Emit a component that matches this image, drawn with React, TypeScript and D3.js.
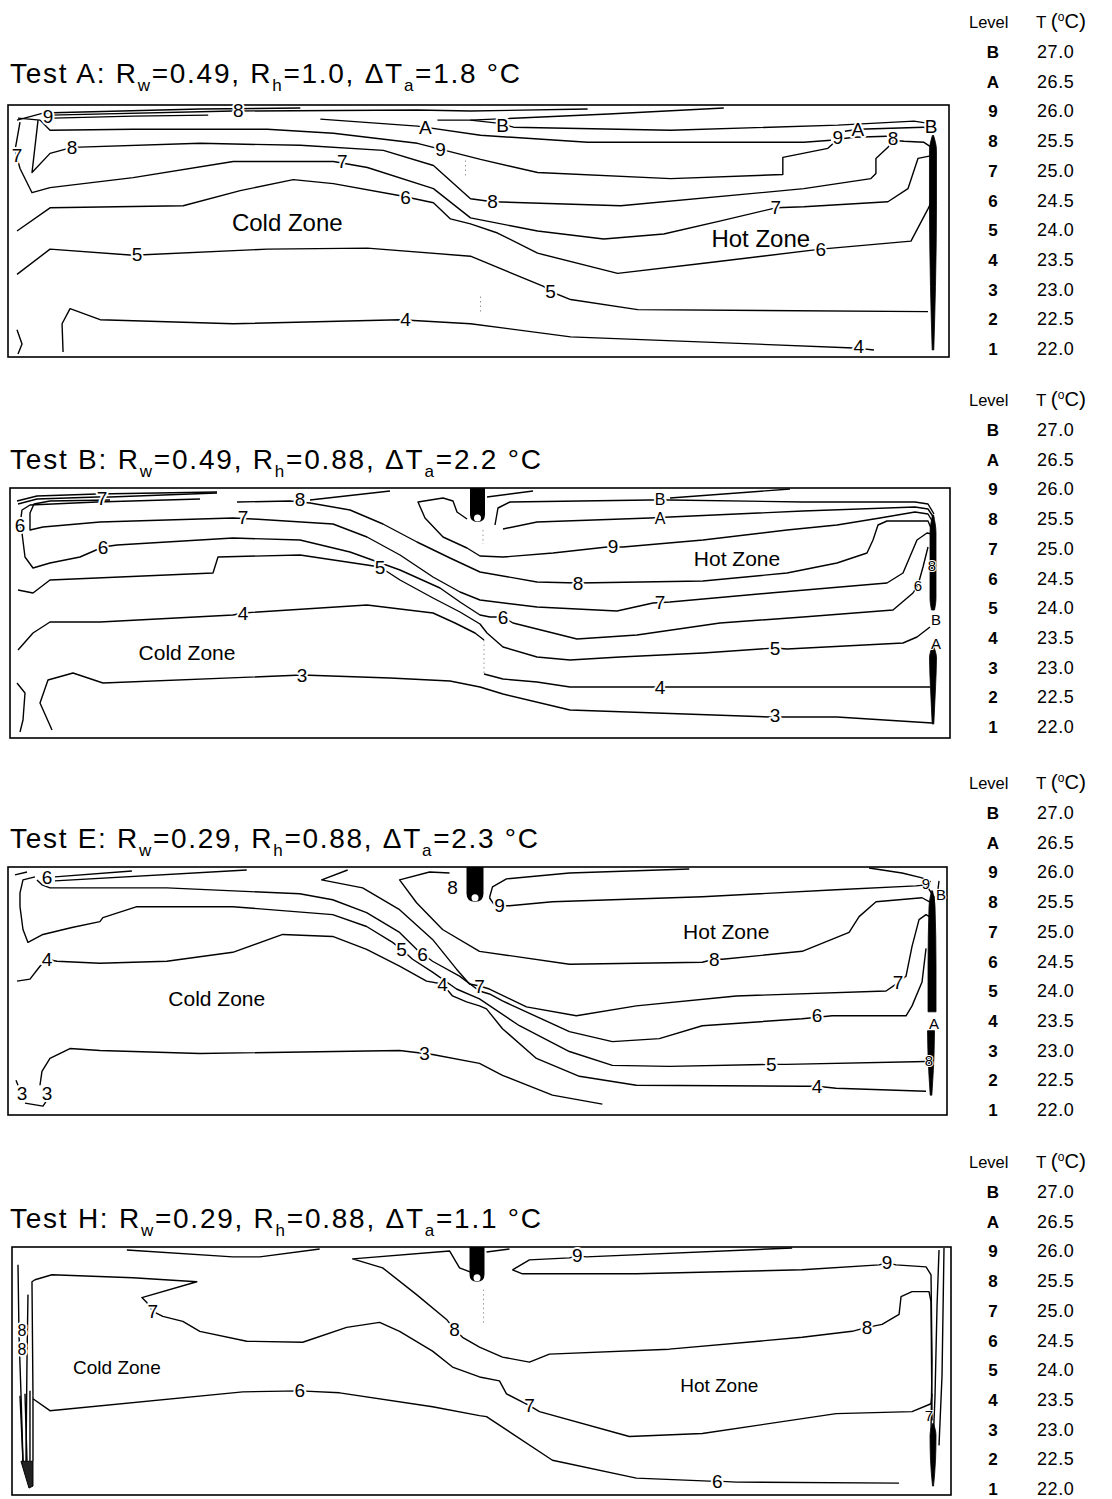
import React from "react";
import * as d3 from "d3";

type Pt = [number, number];
type Mark = { t: string; x: number; y: number; size?: number };
type Spindle = { cx: number; prof: Pt[] };

const FONT = "'Liberation Sans', Arial, Helvetica, sans-serif";
const WALL = 15; // font size of labels packed against the heated wall

// ---- legend: contour level codes and their temperatures (°C)
const levelCodes = ["B", "A", "9", "8", "7", "6", "5", "4", "3", "2", "1"];
const levelTemps = [27.0, 26.5, 26.0, 25.5, 25.0, 24.5, 24.0, 23.5, 23.0, 22.5, 22.0];

// ---- test conditions
const testIds = ["A", "B", "E", "H"];
const rwValues = ["0.49", "0.49", "0.29", "0.29"];
const rhValues = ["1.0", "0.88", "0.88", "0.88"];
const dTaValues = ["1.8", "2.2", "2.3", "1.1"];

// Tank coordinates: distance along the tank 0..940, depth below the surface 0..250
const TANK_LEN = 940;
const TANK_DEPTH = 250;

// ---------------- Test A
const contoursA: Pt[][] = [
  [[9, 15], [35, 8], [192, 4], [292, 3]],
  [[42, 10], [225, 6], [409, 5], [462, 6], [579, 4]],
  [[462, 15], [600, 9], [715, 3]],
  [[45, 13], [125, 11], [200, 10]],
  [[10, 13], [32, 15], [42, 25], [125, 24], [259, 24], [325, 28], [409, 38], [472, 54], [529, 67], [662, 73], [774, 69], [774, 52], [819, 43], [829, 34], [845, 32], [878, 31]],
  [[312, 14], [409, 21], [472, 30], [579, 37], [795, 37], [822, 35]],
  [[836, 26], [849, 24], [915, 22], [922, 26]],
  [[429, 15], [462, 15], [489, 18], [505, 22], [662, 25], [829, 20], [905, 16], [918, 18], [924, 24]],
  [[30, 15], [24, 67], [42, 48], [64, 42], [192, 38], [292, 40], [375, 45], [425, 60], [462, 93], [484, 96], [612, 100], [795, 83], [862, 73], [867, 68], [867, 53], [879, 42], [884, 35], [895, 36], [915, 37], [924, 43]],
  [[12, 17], [7, 45], [12, 63], [24, 87], [42, 82], [125, 72], [225, 56], [325, 56], [359, 62], [425, 83], [462, 112], [529, 125], [595, 133], [655, 128], [712, 115], [767, 102], [795, 101], [879, 96], [899, 83], [909, 53], [924, 50]],
  [[9, 125], [42, 102], [175, 100], [232, 85], [285, 74], [325, 78], [392, 90], [425, 97], [442, 113], [462, 118], [489, 127], [529, 147], [609, 167], [695, 157], [812, 143], [902, 135], [919, 103], [924, 93]],
  [[9, 168], [42, 143], [125, 149], [259, 143], [359, 142], [462, 150], [535, 180], [542, 185], [562, 193], [629, 203], [919, 205]],
  [[55, 245], [54, 217], [62, 202], [92, 213], [225, 217], [392, 213], [462, 217], [562, 230], [845, 241], [865, 243]],
  [[9, 223], [14, 237], [10, 247]],
];
const labelsA: Mark[] = [
  { t: "8", x: 230, y: 5 }, { t: "9", x: 40, y: 11 }, { t: "7", x: 9, y: 50 }, { t: "8", x: 64, y: 42 },
  { t: "9", x: 432, y: 44 }, { t: "A", x: 417, y: 22 }, { t: "B", x: 494, y: 20 }, { t: "7", x: 334, y: 56 },
  { t: "6", x: 397, y: 92 }, { t: "5", x: 129, y: 148 }, { t: "4", x: 397, y: 213 }, { t: "8", x: 484, y: 96 },
  { t: "7", x: 767, y: 102 }, { t: "6", x: 812, y: 143 }, { t: "5", x: 542, y: 185 }, { t: "4", x: 850, y: 240 },
  { t: "9", x: 829, y: 32 }, { t: "A", x: 849, y: 24 }, { t: "8", x: 884, y: 33 }, { t: "B", x: 922, y: 21 },
];
const wallA: Spindle[] = [{ cx: 924, prof: [[30, 0.5], [45, 3.5], [100, 3.5], [180, 2.5], [243, 0.8]] }];
const zonesA: Mark[] = [{ t: "Cold Zone", x: 279, y: 117 }, { t: "Hot Zone", x: 752, y: 132 }];
const dottedA: Pt[][] = [[[457, 55], [457, 70]], [[472, 190], [472, 205]]];

// ---------------- Test B
const contoursB: Pt[][] = [
  [[7, 13], [27, 8], [87, 6], [207, 4]],
  [[8, 16], [27, 11], [87, 9], [100, 9], [207, 5]],
  [[457, 31], [447, 24], [443, 13], [433, 10], [408, 14], [415, 30], [433, 49], [457, 60], [470, 68], [493, 69], [543, 65], [597, 59], [613, 59], [693, 52], [777, 42], [827, 37], [870, 30], [905, 24], [918, 26], [924, 36]],
  [[227, 14], [280, 13], [300, 15], [340, 22], [373, 36], [407, 54], [440, 70], [470, 84], [527, 94], [568, 95], [693, 93], [777, 85], [827, 75], [857, 65], [863, 52], [868, 37], [877, 33], [918, 33], [923, 45]],
  [[300, 12], [380, 3]],
  [[100, 12], [40, 13], [24, 16], [20, 25], [20, 42], [33, 39], [90, 34], [223, 30], [243, 31], [323, 36], [357, 49], [390, 67], [423, 89], [450, 104], [470, 112], [527, 119], [607, 123], [643, 115], [660, 114], [760, 105], [877, 95], [893, 85], [907, 52], [917, 45], [922, 46]],
  [[190, 11], [87, 14], [20, 17], [12, 22], [10, 37], [12, 45], [15, 69], [23, 80], [40, 75], [70, 69], [93, 59], [107, 57], [223, 50], [290, 52], [340, 64], [390, 82], [430, 100], [450, 114], [470, 127], [480, 129], [493, 129], [503, 135], [567, 151], [627, 147], [710, 135], [793, 129], [883, 122], [903, 105], [908, 97], [913, 79], [918, 59]],
  [[8, 102], [23, 105], [40, 92], [203, 85], [208, 69], [290, 67], [357, 77], [370, 79], [390, 92], [423, 110], [450, 124], [470, 136], [477, 145], [493, 159], [527, 169], [560, 172], [610, 169], [693, 165], [765, 160], [777, 161], [893, 155], [907, 149], [920, 139]],
  [[8, 162], [23, 145], [40, 134], [90, 134], [223, 127], [233, 125], [357, 117], [423, 125], [445, 135], [465, 145], [474, 152]],
  [[474, 186], [493, 191], [527, 194], [560, 199], [650, 199], [920, 199]],
  [[42, 242], [30, 215], [38, 192], [63, 185], [93, 195], [292, 187], [380, 190], [440, 193], [470, 199], [493, 206], [560, 222], [760, 229], [827, 229], [922, 235]],
  [[485, 37], [488, 20], [500, 14], [640, 12], [660, 12], [793, 14], [905, 14], [918, 16], [924, 26]],
  [[493, 41], [527, 34], [640, 30], [660, 29], [793, 23], [905, 19], [918, 21], [924, 30]],
  [[660, 10], [780, 1]],
  [[477, 9], [523, 3]],
  [[7, 195], [15, 205], [13, 232], [10, 244]],
];
const labelsB: Mark[] = [
  { t: "7", x: 92, y: 10 }, { t: "6", x: 10, y: 37 }, { t: "8", x: 290, y: 11 }, { t: "7", x: 233, y: 29 },
  { t: "6", x: 93, y: 59 }, { t: "5", x: 370, y: 79 }, { t: "4", x: 233, y: 125 }, { t: "3", x: 292, y: 187 },
  { t: "B", x: 650, y: 11, size: 16 }, { t: "A", x: 650, y: 30, size: 16 }, { t: "9", x: 603, y: 58 }, { t: "8", x: 568, y: 95 },
  { t: "7", x: 650, y: 114 }, { t: "6", x: 493, y: 129 }, { t: "5", x: 765, y: 160 }, { t: "4", x: 650, y: 199 },
  { t: "3", x: 765, y: 227 }, { t: "8", x: 922, y: 77, size: WALL }, { t: "6", x: 908, y: 97, size: WALL },
  { t: "B", x: 926, y: 131, size: WALL }, { t: "A", x: 926, y: 155, size: WALL },
];
const wallB: Spindle[] = [
  { cx: 923, prof: [[27, 0.5], [45, 3], [110, 3], [122, 1.5]] },
  { cx: 923, prof: [[158, 0.5], [170, 3.5], [200, 2.5], [236, 0.8]] },
];
const zonesB: Mark[] = [{ t: "Cold Zone", x: 177, y: 164 }, { t: "Hot Zone", x: 727, y: 70 }];
const dottedB: Pt[][] = [[[473, 42], [473, 56]], [[474, 152], [474, 186]]];
const nozzleB: number[] = [460, 475, 34];

// ---------------- Test E
const contoursE: Pt[][] = [
  [[7, 8], [19, 5]],
  [[47, 10], [124, 4]],
  [[47, 14], [239, 3]],
  [[29, 13], [34, 18], [42, 21], [159, 21], [292, 27], [325, 33], [359, 46], [392, 66], [409, 83], [425, 95], [452, 110], [472, 125], [482, 128], [495, 135], [562, 166], [605, 176], [652, 173], [695, 160], [795, 153], [825, 150], [899, 150], [905, 140], [915, 116], [919, 82]],
  [[27, 10], [15, 13], [12, 26], [12, 40], [15, 63], [20, 76], [35, 68], [64, 61], [92, 55], [95, 51], [129, 40], [225, 40], [325, 48], [359, 60], [385, 76], [394, 83], [405, 93], [425, 106], [449, 123], [472, 133], [512, 160], [562, 186], [605, 200], [662, 201], [764, 199], [779, 199], [919, 196]],
  [[9, 115], [22, 113], [32, 100], [39, 93], [49, 95], [92, 97], [159, 95], [225, 86], [275, 68], [325, 70], [359, 83], [392, 100], [419, 115], [435, 118], [445, 130], [459, 136], [472, 140], [479, 143], [495, 163], [529, 193], [572, 211], [629, 220], [795, 221], [810, 221], [829, 223], [919, 226]],
  [[32, 220], [34, 206], [42, 193], [62, 183], [92, 185], [192, 188], [392, 185], [417, 188], [425, 189], [472, 198], [495, 210], [545, 230], [595, 239]],
  [[340, 3], [314, 13], [355, 21], [392, 43], [425, 73], [449, 103], [462, 118], [472, 120], [482, 123], [519, 141], [569, 150], [629, 140], [729, 130], [879, 125], [889, 118], [899, 110], [905, 80], [912, 53], [919, 48], [924, 51]],
  [[442, 6], [422, 5], [392, 13], [409, 36], [435, 63], [472, 85], [562, 98], [695, 96], [707, 93], [715, 93], [795, 85], [842, 66], [852, 50], [869, 35], [915, 31], [924, 36], [922, 120]],
  [[482, 31], [485, 20], [499, 12], [562, 6], [682, 2]],
  [[482, 31], [486, 37], [492, 39], [502, 39], [545, 35], [695, 30], [829, 23], [909, 19], [919, 18], [927, 30], [926, 100]],
  [[862, 1], [895, 6], [915, 11], [924, 15]],
  [[932, 14], [931, 22]],
  [[17, 238], [35, 241], [39, 235]],
  [[8, 215], [10, 220]],
];
const labelsE: Mark[] = [
  { t: "6", x: 39, y: 11 }, { t: "6", x: 415, y: 88 }, { t: "5", x: 394, y: 83 }, { t: "4", x: 39, y: 93 },
  { t: "4", x: 435, y: 118 }, { t: "3", x: 417, y: 188 }, { t: "3", x: 14, y: 228 }, { t: "3", x: 39, y: 228 },
  { t: "8", x: 445, y: 21 }, { t: "9", x: 492, y: 39 }, { t: "7", x: 472, y: 120 }, { t: "8", x: 707, y: 93 },
  { t: "6", x: 810, y: 150 }, { t: "5", x: 764, y: 199 }, { t: "4", x: 810, y: 221 }, { t: "7", x: 891, y: 116 },
  { t: "9", x: 919, y: 17, size: WALL }, { t: "B", x: 934, y: 28, size: WALL }, { t: "A", x: 927, y: 158, size: WALL },
  { t: "8", x: 922, y: 195, size: WALL },
];
const wallE: Spindle[] = [
  { cx: 925, prof: [[24, 0.5], [40, 3], [100, 4], [146, 4]] },
  { cx: 924, prof: [[165, 3.5], [190, 3], [230, 0.8]] },
];
const zonesE: Mark[] = [{ t: "Cold Zone", x: 209, y: 133 }, { t: "Hot Zone", x: 719, y: 65 }];
const dottedE: Pt[][] = [];
const nozzleE: number[] = [459, 476, 35];

// ---------------- Test H
const contoursH: Pt[][] = [
  [[115, 3], [221, 10], [248, 10], [308, 2]],
  [[21, 150], [20, 35], [23, 33], [40, 28], [121, 31], [185, 35], [130, 51], [135, 56], [141, 65], [151, 70], [171, 75], [188, 85], [235, 95], [291, 96], [335, 81], [368, 76], [388, 85], [421, 105], [441, 121], [468, 131], [488, 135], [495, 148], [518, 160], [528, 166], [618, 191], [691, 188], [825, 168], [901, 166], [920, 158], [921, 148]],
  [[461, 26], [448, 21], [438, 4], [341, 12], [371, 21], [405, 48], [435, 73], [443, 83], [451, 91], [468, 101], [491, 111], [518, 116], [538, 108], [658, 103], [791, 91], [841, 85], [856, 81], [871, 78], [888, 68], [890, 50], [901, 45], [918, 45], [920, 55], [921, 175]],
  [[501, 23], [518, 13], [558, 11], [566, 9], [575, 10], [781, 1]],
  [[501, 23], [511, 27], [625, 27], [791, 23], [868, 18], [876, 16], [885, 18], [915, 20], [920, 28], [921, 115], [920, 185]],
  [[475, 5], [498, 2]],
  [[21, 153], [38, 165], [231, 146], [288, 145], [328, 147], [421, 161], [468, 170], [475, 171], [541, 215], [625, 233], [698, 236], [706, 236], [725, 237], [888, 238]],
  [[6, 18], [7, 88], [9, 148], [11, 216]],
  [[16, 48], [15, 115], [14, 216]],
  [[21, 150], [21, 216]],
  [[8, 150], [11, 216]],
  [[13, 148], [15, 216]],
  [[18, 145], [18, 216]],
  [[928, 3], [926, 60], [924, 150], [922, 200]],
  [[933, 1], [931, 130], [928, 200]],
];
const labelsH: Mark[] = [
  { t: "7", x: 141, y: 65 }, { t: "8", x: 443, y: 83 }, { t: "6", x: 288, y: 145 }, { t: "8", x: 10, y: 84, size: 16 },
  { t: "8", x: 10, y: 103, size: 16 }, { t: "9", x: 566, y: 9 }, { t: "9", x: 876, y: 16 }, { t: "8", x: 856, y: 81 },
  { t: "7", x: 518, y: 160 }, { t: "6", x: 706, y: 236 }, { t: "7", x: 918, y: 170, size: WALL },
];
const wallH: Spindle[] = [{ cx: 922, prof: [[178, 0.5], [190, 3], [215, 2.5], [241, 0.5]] }];
const wedgeH: Pt[] = [[9, 216], [21, 216], [21, 241], [17, 243]];
const zonesH: Mark[] = [{ t: "Cold Zone", x: 105, y: 121 }, { t: "Hot Zone", x: 708, y: 140 }];
const dottedH: Pt[][] = [[[472, 43], [472, 78]]];
const nozzleH: number[] = [458, 473, 35];

// ---------------- layout
const layout = [
  { left: 8, top: 105, w: 941, h: 252, titleY: 83, titleLen: 510, legendY: 22, zoneSize: 24 },
  { left: 10, top: 488, w: 940, h: 250, titleY: 469, titleLen: 531, legendY: 400, zoneSize: 21 },
  { left: 8, top: 867, w: 939, h: 248, titleY: 848, titleLen: 528, legendY: 783, zoneSize: 21 },
  { left: 12, top: 1247, w: 939, h: 248, titleY: 1228, titleLen: 531, legendY: 1162, zoneSize: 19 },
];

const panels = [
  { contours: contoursA, labels: labelsA, walls: wallA, zones: zonesA, dotted: dottedA, nozzle: [] as number[], wedge: [] as Pt[] },
  { contours: contoursB, labels: labelsB, walls: wallB, zones: zonesB, dotted: dottedB, nozzle: nozzleB, wedge: [] as Pt[] },
  { contours: contoursE, labels: labelsE, walls: wallE, zones: zonesE, dotted: dottedE, nozzle: nozzleE, wedge: [] as Pt[] },
  { contours: contoursH, labels: labelsH, walls: wallH, zones: zonesH, dotted: dottedH, nozzle: nozzleH, wedge: wedgeH },
];

function Panel({ i }: { i: number }) {
  const L = layout[i];
  const P = panels[i];
  const x = d3.scaleLinear().domain([0, TANK_LEN]).range([L.left, L.left + L.w]);
  const y = d3.scaleLinear().domain([0, TANK_DEPTH]).range([L.top, L.top + L.h]);
  const line = d3.line<Pt>().x((d) => x(d[0])).y((d) => y(d[1]));
  const closed = d3.line<Pt>().x((d) => x(d[0])).y((d) => y(d[1])).curve(d3.curveLinearClosed);

  const spindlePath = (s: Spindle) =>
    d3
      .area<Pt>()
      .y((d) => y(d[0]))
      .x0((d) => x(s.cx) - d[1])
      .x1((d) => x(s.cx) + d[1])
      .curve(d3.curveMonotoneY)(s.prof) || "";

  let nozzle: React.ReactNode = null;
  if (P.nozzle.length) {
    const [a, b, depth] = P.nozzle;
    const x0 = x(a), x1 = x(b), y0 = y(0), y1 = y(depth);
    const cx = (x0 + x1) / 2;
    const r = (x1 - x0) / 2;
    nozzle = (
      <g>
        <path d={`M${x0},${y0}L${x1},${y0}L${x1},${y1 - r}Q${x1},${y1} ${cx},${y1}Q${x0},${y1} ${x0},${y1 - r}Z`} fill="#000" />
        <circle cx={cx} cy={y1 - 4} r={3.5} fill="#fff" />
      </g>
    );
  }

  return (
    <g>
      <text x={10} y={L.titleY} fontSize={28} textLength={L.titleLen} lengthAdjust="spacing" fill="#000">
        {`Test ${testIds[i]}: R`}
        <tspan dy={8} fontSize={17}>w</tspan>
        <tspan dy={-8}>{`=${rwValues[i]}, R`}</tspan>
        <tspan dy={8} fontSize={17}>h</tspan>
        <tspan dy={-8}>{`=${rhValues[i]}, \u0394T`}</tspan>
        <tspan dy={8} fontSize={17}>a</tspan>
        <tspan dy={-8}>{`=${dTaValues[i]} \u00B0C`}</tspan>
      </text>

      <rect x={L.left} y={L.top} width={L.w} height={L.h} fill="none" stroke="#000" strokeWidth={1.6} />

      {P.dotted.map((d, k) => (
        <path key={"d" + k} d={line(d) || ""} fill="none" stroke="#999" strokeWidth={1} strokeDasharray="1.5 3" />
      ))}

      {P.contours.map((c, k) => (
        <path key={"c" + k} d={line(c) || ""} fill="none" stroke="#000" strokeWidth={1.4} strokeLinejoin="round" />
      ))}

      {P.walls.map((s, k) => (
        <path key={"w" + k} d={spindlePath(s)} fill="#000" stroke="#000" strokeWidth={0.8} />
      ))}

      {P.wedge.length > 0 && <path d={closed(P.wedge) || ""} fill="#222" stroke="#000" strokeWidth={1} />}

      {nozzle}

      {P.labels.map((m, k) => {
        const fs = m.size ?? 19;
        return (
          <text
            key={"l" + k}
            x={x(m.x)}
            y={y(m.y)}
            fontSize={fs}
            textAnchor="middle"
            dominantBaseline="central"
            fill="#000"
            stroke="#fff"
            strokeWidth={fs <= WALL ? 2 : 4}
            strokeLinejoin="round"
            paintOrder="stroke"
          >
            {m.t}
          </text>
        );
      })}

      {P.zones.map((m, k) => (
        <text key={"z" + k} x={x(m.x)} y={y(m.y)} fontSize={L.zoneSize} textAnchor="middle" dominantBaseline="central" fill="#000">
          {m.t}
        </text>
      ))}

      <Legend top={L.legendY} />
    </g>
  );
}

function Legend({ top }: { top: number }) {
  const row = d3.scaleLinear().domain([0, levelCodes.length - 1]).range([top + 30, top + 30 + 29.7 * (levelCodes.length - 1)]);
  return (
    <g>
      <text x={969} y={top + 6} fontSize={16.5} fill="#000">Level</text>
      <text x={1036} y={top + 6} fontSize={17} fill="#000">
        {"T "}
        <tspan fontSize={21}>(</tspan>
        <tspan dy={-7} fontSize={12}>o</tspan>
        <tspan dy={7} fontSize={20}>C</tspan>
        <tspan fontSize={21}>)</tspan>
      </text>
      {levelCodes.map((c, k) => (
        <g key={c}>
          <text x={993} y={row(k) + 6} fontSize={17} fontWeight="bold" textAnchor="middle" fill="#000">{c}</text>
          <text x={1037} y={row(k) + 6} fontSize={18} letterSpacing={0.6} fill="#000">{levelTemps[k].toFixed(1)}</text>
        </g>
      ))}
    </g>
  );
}

export default function App() {
  return (
    <svg
      width={1112}
      height={1499}
      viewBox="0 0 1112 1499"
      style={{ position: "absolute", left: 0, top: 0, background: "#fff" }}
      fontFamily={FONT}
    >
      <rect x={0} y={0} width={1112} height={1499} fill="#fff" />
      {testIds.map((_, i) => (
        <Panel key={i} i={i} />
      ))}
    </svg>
  );
}
